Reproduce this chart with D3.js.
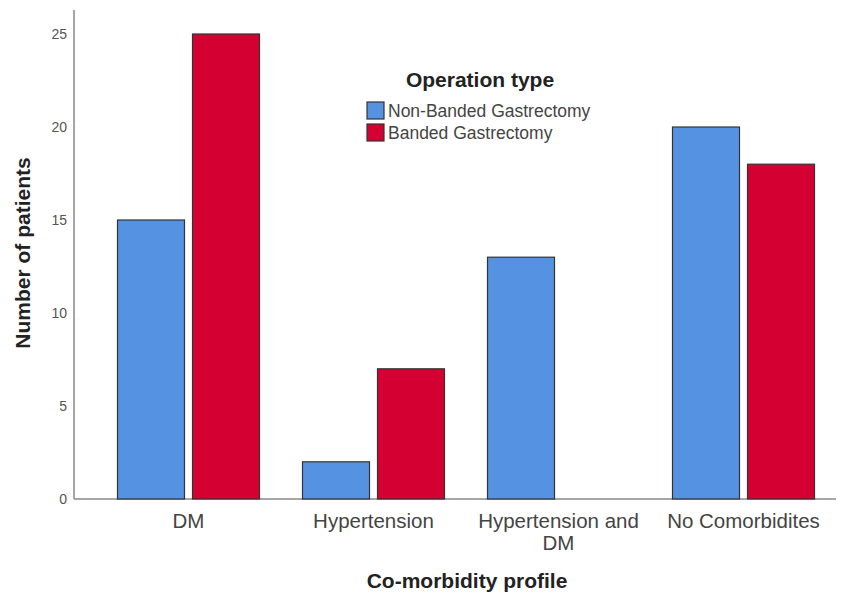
<!DOCTYPE html>
<html><head><meta charset="utf-8">
<script src="https://cdn.jsdelivr.net/npm/d3@7"></script>
<style>body{margin:0;background:#fff;} text{font-family:"Liberation Sans",Arial,sans-serif;}</style>
</head><body>
<svg id="c" width="847" height="599"></svg>
<script>
const categories = ["DM", "Hypertension", "Hypertension and DM", "No Comorbidites"];
const series = ["Non-Banded Gastrectomy", "Banded Gastrectomy"];
const nonBanded = [15, 2, 13, 20];
const banded = [25, 7, 0, 18];
const yTicks = [0, 5, 10, 15, 20, 25];
const colors = ["#5593e2", "#d50032"];

const svg = d3.select("#c");
const x0 = d3.scaleBand().domain(categories).range([96, 836]).paddingInner(0).paddingOuter(0);
const y = d3.scaleLinear().domain([0, 25]).range([499, 34]);
const x1 = d3.scaleBand().domain(series).range([21.5, x0.bandwidth() - 21.5]).paddingInner(8 / 75).paddingOuter(0);

const values = [nonBanded, banded];

// axes lines
svg.append("line").attr("x1", 74).attr("x2", 74).attr("y1", 10).attr("y2", y(0)).attr("stroke", "#888").attr("stroke-width", 1.5);
svg.append("line").attr("x1", 74).attr("x2", 836).attr("y1", y(0)).attr("y2", y(0)).attr("stroke", "#888").attr("stroke-width", 1.5);

// y ticks
svg.selectAll(".yt").data(yTicks).enter().append("text")
  .attr("x", 67).attr("y", d => y(d) + 5).attr("text-anchor", "end")
  .attr("font-size", 14).attr("fill", "#555").text(d => d);

// bars
categories.forEach((c, i) => {
  series.forEach((s, j) => {
    const v = values[j][i];
    if (v <= 0) return;
    svg.append("rect")
      .attr("x", x0(c) + x1(s)).attr("y", y(v))
      .attr("width", x1.bandwidth()).attr("height", y(0) - y(v))
      .attr("fill", colors[j]).attr("stroke", "#333").attr("stroke-width", 1.2);
  });
});

// x labels
categories.forEach(c => {
  const cx = x0(c) + x0.bandwidth() / 2;
  let lines = [c];
  if (c === "Hypertension and DM") lines = ["Hypertension and", "DM"];
  lines.forEach((l, k) => {
    svg.append("text").attr("x", cx).attr("y", 528 + k * 22).attr("text-anchor", "middle")
      .attr("font-size", 20.5).attr("fill", "#444").text(l);
  });
});

// axis titles
svg.append("text").attr("x", 467).attr("y", 588).attr("text-anchor", "middle")
  .attr("font-size", 21).attr("font-weight", "bold").attr("fill", "#222").text("Co-morbidity profile");
svg.append("text").attr("transform", "translate(30,253) rotate(-90)").attr("text-anchor", "middle")
  .attr("font-size", 21).attr("font-weight", "bold").attr("fill", "#222").text("Number of patients");

// legend
svg.append("text").attr("x", 480).attr("y", 87).attr("text-anchor", "middle")
  .attr("font-size", 21).attr("font-weight", "bold").attr("fill", "#222").text("Operation type");
series.forEach((s, j) => {
  const ly = 102 + j * 22;
  svg.append("rect").attr("x", 367).attr("y", ly).attr("width", 17).attr("height", 17)
    .attr("fill", colors[j]).attr("stroke", "#333").attr("stroke-width", 1.2);
  svg.append("text").attr("x", 388).attr("y", ly + 15).attr("font-size", 17.5).attr("fill", "#444").text(s);
});
</script>
</body></html>
